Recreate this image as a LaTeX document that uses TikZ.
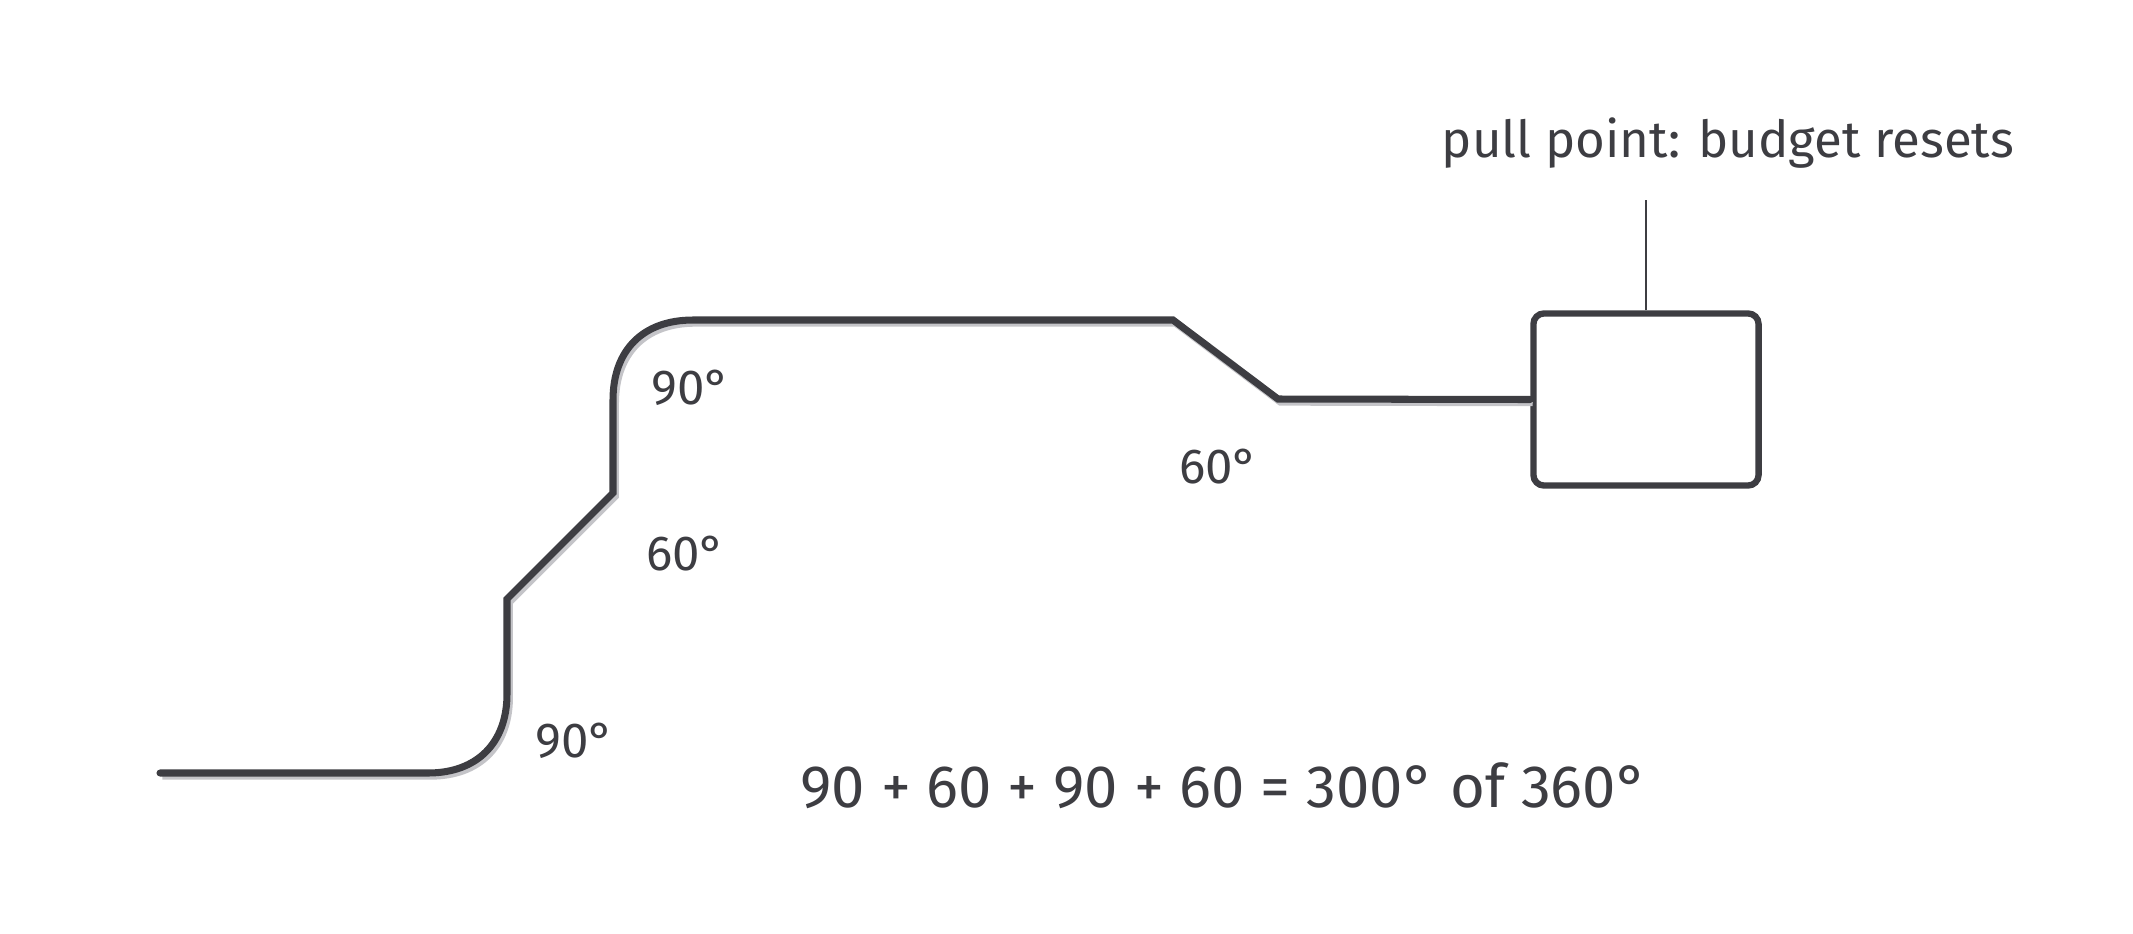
\documentclass[tikz,border=0pt]{standalone}
\usepackage{fontspec}
\setmainfont{Fira Sans}
\usetikzlibrary{positioning,calc}
\definecolor{ink}{HTML}{3D3D42}
\definecolor{shade}{HTML}{C4C4C8}
\tikzset{
  track/.style={draw=ink, line width=2pt, line cap=round, line join=miter,
    preaction={draw=shade, line width=2pt,
      transform canvas={xshift=0.7pt, yshift=-0.9pt}}},
  budgetbox/.style={draw=ink, line width=1.8pt, rounded corners=3pt,
    minimum width=2.25cm, minimum height=1.72cm, fill=white},
  anglelabel/.style={text=ink, font=\fontsize{14}{16}\selectfont},
  note/.style={text=ink, font=\fontsize{14.5}{17}\selectfont},
}

\begin{document}
\begin{tikzpicture}[x=0.01cm, y=-0.01cm]
  \useasboundingbox (0,0) rectangle (2133,933);
  % bends of the run
  \coordinate(S) at (160,773);
  \coordinate(A) at (507,773);
  \coordinate(B) at (507,599);
  \coordinate(C) at (613,493);
  \coordinate(D) at (613,320);
  \coordinate(E) at (1173,320);
  \coordinate(F) at (1278,399);
  \node[budgetbox](pull) at (1646,399.5) {};
  \coordinate(tick) at (1646,200);
  \draw[track] (S) -- ($(A)+(-79,0)$)
    .. controls ($(A)+(-30,0)$) and ($(A)+(0,-30)$) .. ($(A)+(0,-79)$)
    -- (B) -- (C) -- ($(D)+(0,80)$)
    .. controls ($(D)+(0,30)$) and ($(D)+(30,0)$) .. ($(D)+(80,0)$)
    -- (E) -- (F) -- (pull.west);
  \draw[ink, line width=0.6pt] (pull.north) -- (tick);
  \node[note](title) at (1728,143) {pull point: budget resets};
  % angle labels
  \node[anglelabel](a1) at (575,741) {90°};
  \node[anglelabel](a2) at (686,554) {60°};
  \node[anglelabel](a3) at (691,388) {90°};
  \node[anglelabel](a4) at (1219,467) {60°};
  \node[note, font=\fontsize{17}{20}\selectfont](sum) at (1224,786)
    {90 + 60 + 90 + 60 = 300° of 360°};
\end{tikzpicture}
\end{document}
